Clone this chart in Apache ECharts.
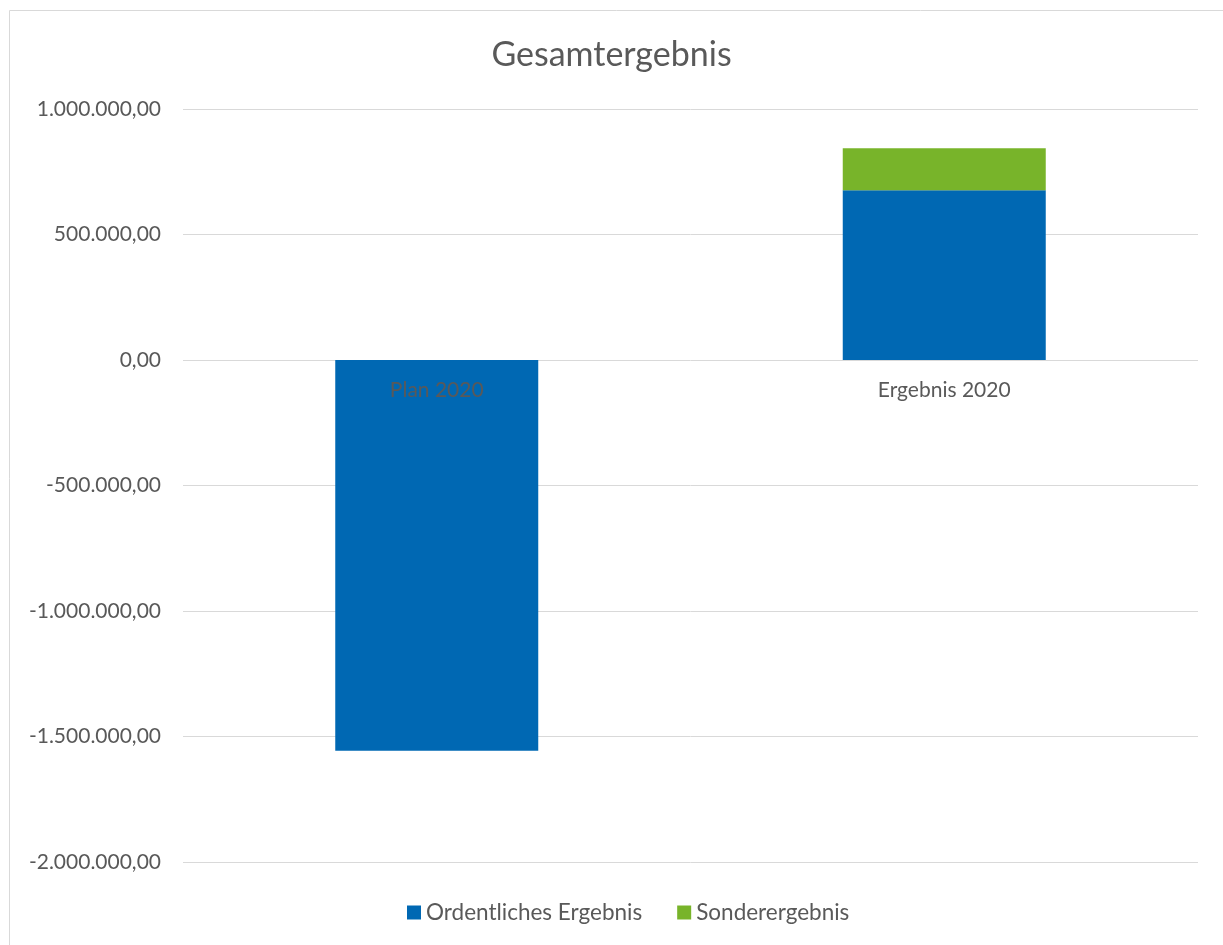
<!DOCTYPE html>
<html>
<head>
<meta charset="utf-8">
<script src="https://cdn.jsdelivr.net/npm/echarts@6/dist/echarts.min.js"></script>
<style>
html,body{margin:0;padding:0;background:#fff;}
#chart{width:1223px;height:945px;}
</style>
</head>
<body>
<div id="chart"></div>
<script>
const categories = ['Plan 2020', 'Ergebnis 2020'];
const ordentlich = [-1557000, 676000];
const sonder = [0, 167500];
const seriesNames = ['Ordentliches Ergebnis', 'Sonderergebnis'];

function fmt(v) {
  const neg = v < 0;
  const a = Math.abs(v);
  const intPart = Math.floor(a).toString().replace(/\B(?=(\d{3})+(?!\d))/g, '.');
  return (neg ? '-' : '') + intPart + ',00';
}

const chart = echarts.init(document.getElementById('chart'));
const font = 'Lato, "Noto Sans", sans-serif';
chart.setOption({
  animation: false,
  textStyle: { fontFamily: font },
  title: {
    text: 'Gesamtergebnis',
    left: 'center',
    top: 33,
    textStyle: { fontSize: 34, fontWeight: 'normal', color: '#595959', fontFamily: font }
  },
  graphic: [{
    type: 'rect',
    shape: { x: 9.5, y: 10.5, width: 1230, height: 960 },
    style: { fill: 'none', stroke: '#d9d9d9', lineWidth: 1 },
    silent: true
  }],
  legend: {
    bottom: 16,
    left: 402,
    itemWidth: 14,
    itemHeight: 14,
    itemGap: 35,
    icon: 'rect',
    textStyle: { fontSize: 22.5, color: '#595959', fontFamily: font },
    data: seriesNames
  },
  grid: { left: 183, right: 25, top: 109, bottom: 83, containLabel: false },
  xAxis: {
    type: 'category',
    data: categories,
    axisLine: { show: false },
    axisTick: { show: false },
    axisLabel: { show: false }
  },
  yAxis: {
    type: 'value',
    min: -2000000,
    max: 1000000,
    interval: 500000,
    axisLine: { show: false },
    axisTick: { show: false },
    splitLine: { lineStyle: { color: '#d9d9d9' } },
    axisLabel: { fontSize: 21, color: '#595959', margin: 22, formatter: fmt, fontFamily: font }
  },
  series: [
    {
      name: seriesNames[0],
      type: 'bar',
      stack: 'total',
      data: ordentlich,
      barCategoryGap: '60%',
      itemStyle: { color: '#0068b3' }
    },
    {
      name: seriesNames[1],
      type: 'bar',
      stack: 'total',
      data: sonder,
      itemStyle: { color: '#78b42a' }
    },
    {
      name: 'categoryLabels',
      type: 'scatter',
      z: 10,
      silent: true,
      symbolSize: 0,
      itemStyle: { opacity: 1 },
      data: categories.map(c => [c, 0]),
      label: {
        show: true,
        position: 'bottom',
        distance: 20,
        opacity: 1,
        formatter: p => p.name || p.value[0],
        fontSize: 21,
        color: '#595959',
        fontFamily: font
      }
    }
  ]
});
</script>
</body>
</html>
